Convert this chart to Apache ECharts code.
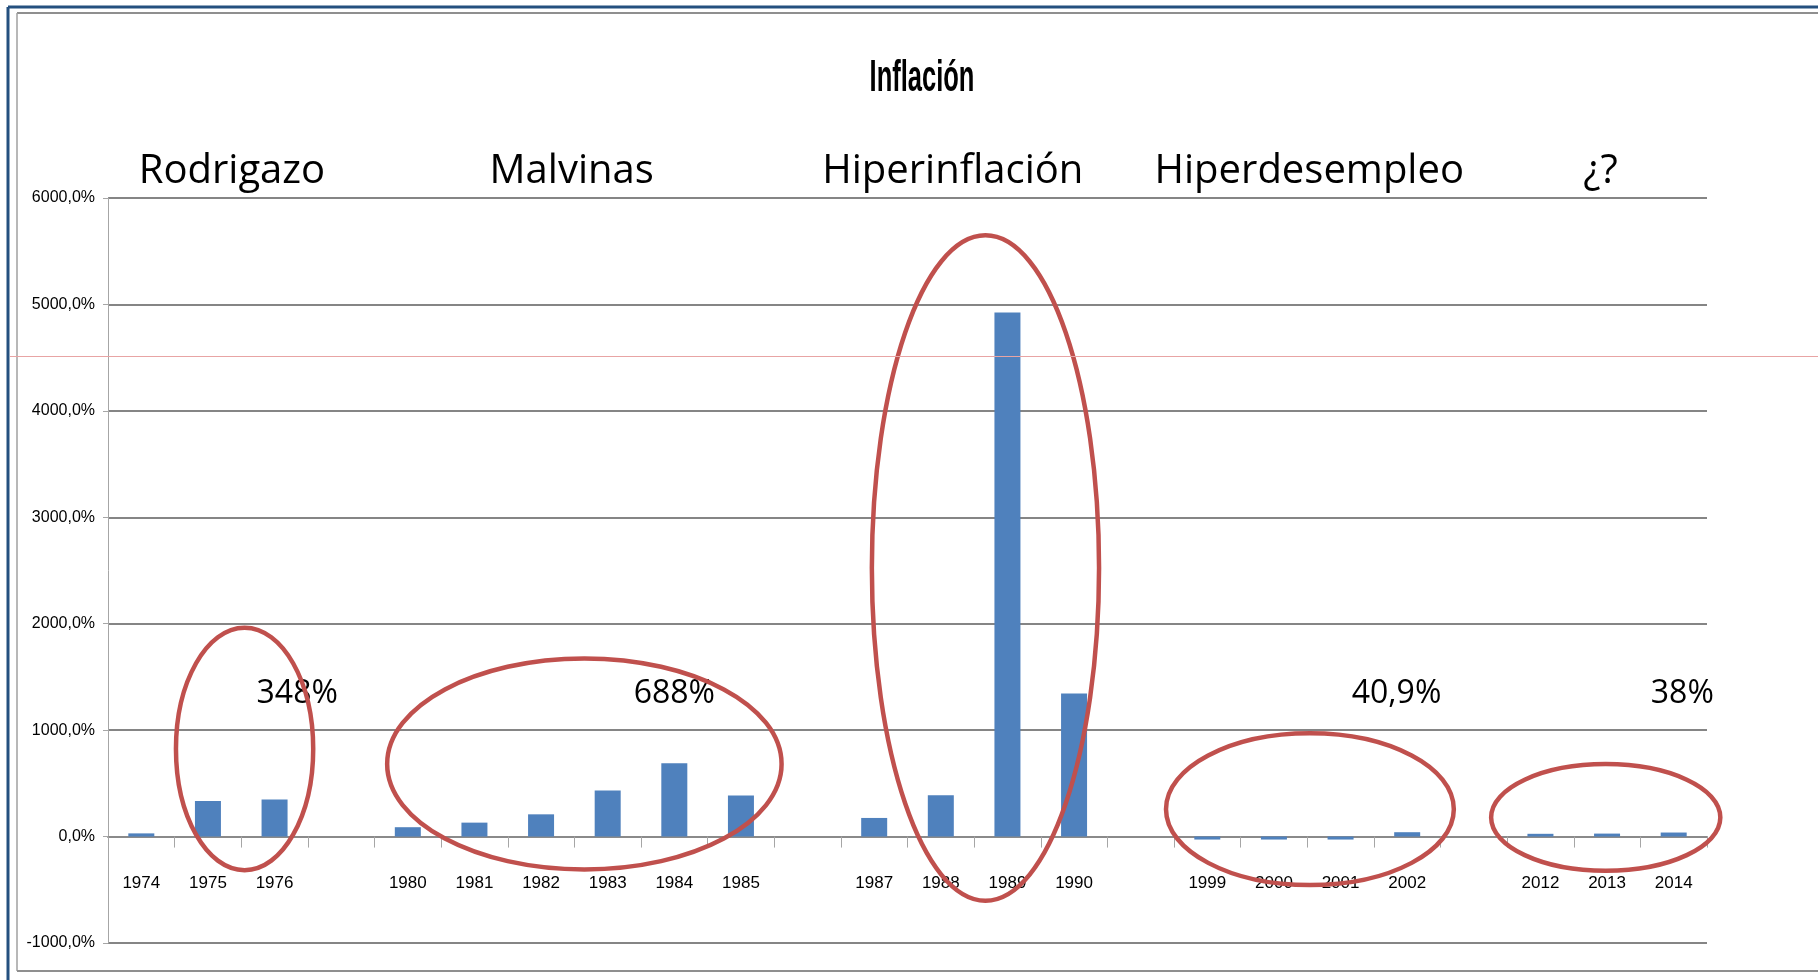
<!DOCTYPE html>
<html><head><meta charset="utf-8">
<script src="https://cdn.jsdelivr.net/npm/echarts@6/dist/echarts.min.js"></script>
<style>html,body{margin:0;padding:0;background:#fff}#c{width:1818px;height:980px}</style>
</head><body><div id="c"></div>
<script>
// ---- data ----
const categories = ['1974','1975','1976','','1980','1981','1982','1983','1984','1985','','1987','1988','1989','1990','','1999','2000','2001','2002','','2012','2013','2014'];
const inflation = [30, 335, 348, null, 88, 131, 209, 433, 688, 385, null, 175, 388, 4923, 1344, null, -28, -28, -28, 41, null, 26, 28, 38];
const yMin = -1000, yMax = 6000, yStep = 1000;
const chartTitle = 'Inflación';
const periodNames = ['Rodrigazo', 'Malvinas', 'Hiperinflación', 'Hiperdesempleo', '¿?'];
const peakLabels = ['348%', '688%', '40,9%', '38%'];

// ---- annotation layout (in axis units: category position, value) ----
const periodNameAt = [[1.36, 6250], [6.46, 6250], [12.18, 6250], [17.53, 6250], [21.9, 6250]];
const peakLabelAt = [[2.34, 1345], [8.0, 1345], [18.84, 1345], [23.13, 1345]];
const ellipseAt = [ // [centre cat, centre value, half-width cats, half-height value]
  [1.55, 823, 1.03, 1139],
  [6.65, 682, 2.96, 991],
  [12.67, 2523, 1.705, 3126],
  [17.54, 257, 2.16, 713],
  [21.98, 180, 1.72, 501]
];

const tickFont = "'Liberation Sans', Arial, sans-serif";
const chart = echarts.init(document.getElementById('c'), null, {renderer: 'canvas'});

chart.setOption({
  animation: false,
  backgroundColor: '#ffffff',
  grid: {left: 108, right: 111, top: 198, bottom: 37, containLabel: false, outerBoundsMode: 'none'},
  xAxis: [{
    type: 'category', data: categories,
    axisLine: {onZero: true, lineStyle: {color: '#8a8a8a', width: 2}},
    axisTick: {show: true, interval: 0, alignWithLabel: false, length: 11, lineStyle: {color: '#a6a6a6', width: 1}},
    axisLabel: {interval: 0, margin: -68, fontFamily: tickFont, fontSize: 17, color: '#000'},
    splitLine: {show: false}
  }, {
    type: 'value', min: -0.5, max: categories.length - 0.5, show: false
  }],
  yAxis: {
    type: 'value', min: yMin, max: yMax, interval: yStep,
    axisLine: {show: true, onZero: false, lineStyle: {color: '#a6a6a6', width: 1}},
    axisTick: {show: true, length: 5, lineStyle: {color: '#a6a6a6'}},
    axisLabel: {margin: 13, fontFamily: tickFont, fontSize: 16, color: '#000',
      formatter: v => v.toFixed(1).replace('.', ',') + '%'},
    splitLine: {show: true, lineStyle: {color: '#858585', width: 2}}
  },
  series: [{
    type: 'bar', data: inflation, xAxisIndex: 0, barWidth: 26,
    itemStyle: {color: '#4F81BD'}
  }]
});

function px(c, v) {
  return [chart.convertToPixel({xAxisIndex: 1}, c), chart.convertToPixel({yAxisIndex: 0}, v)];
}

const g = [];
// frame decoration
g.push({type: 'line', shape: {x1: 8, y1: 7, x2: 1818, y2: 7}, style: {stroke: '#25507f', lineWidth: 3}, silent: true});
g.push({type: 'line', shape: {x1: 8, y1: 7, x2: 8, y2: 980}, style: {stroke: '#25507f', lineWidth: 3}, silent: true});
g.push({type: 'line', shape: {x1: 17, y1: 13, x2: 1818, y2: 13}, style: {stroke: '#8f8f8f', lineWidth: 2}, silent: true});
g.push({type: 'line', shape: {x1: 17, y1: 13, x2: 17, y2: 971}, style: {stroke: '#a0a0a0', lineWidth: 1.5}, silent: true});
g.push({type: 'line', shape: {x1: 17, y1: 971, x2: 1818, y2: 971}, style: {stroke: '#8f8f8f', lineWidth: 2}, silent: true});
g.push({type: 'line', shape: {x1: 10, y1: 356.5, x2: 1818, y2: 356.5}, style: {stroke: '#e8a4a4', lineWidth: 1}, silent: true, z: 100});

// title (condensed, as in the original slide)
g.push({type: 'text', x: 922, y: 79, scaleX: 0.58, scaleY: 1, silent: true,
  style: {text: chartTitle, fill: '#000', font: "bold 44px 'Liberation Sans', Arial, sans-serif",
    align: 'center', verticalAlign: 'middle', textAlign: 'center', textVerticalAlign: 'middle'}});

periodNames.forEach((t, i) => {
  const p = px(periodNameAt[i][0], periodNameAt[i][1]);
  g.push({type: 'text', x: p[0], y: p[1], silent: true,
    style: {text: t, fill: '#000', font: "40px 'Open Sans'", align: 'center', verticalAlign: 'middle', textAlign: 'center', textVerticalAlign: 'middle'}});
});
peakLabels.forEach((t, i) => {
  const p = px(peakLabelAt[i][0], peakLabelAt[i][1]);
  g.push({type: 'text', x: p[0], y: p[1], silent: true,
    style: {text: t, fill: '#000', font: "32px 'Open Sans'", align: 'center', verticalAlign: 'middle', textAlign: 'center', textVerticalAlign: 'middle'}});
});
ellipseAt.forEach(e => {
  const c = px(e[0], e[1]);
  const r = px(e[0] + e[2], e[1] + e[3]);
  g.push({type: 'ellipse', silent: true, z: 50,
    shape: {cx: c[0], cy: c[1], rx: Math.abs(r[0] - c[0]), ry: Math.abs(r[1] - c[1])},
    style: {fill: 'none', stroke: '#C0504D', lineWidth: 4.5}});
});
chart.setOption({graphic: g});
</script>
</body></html>
